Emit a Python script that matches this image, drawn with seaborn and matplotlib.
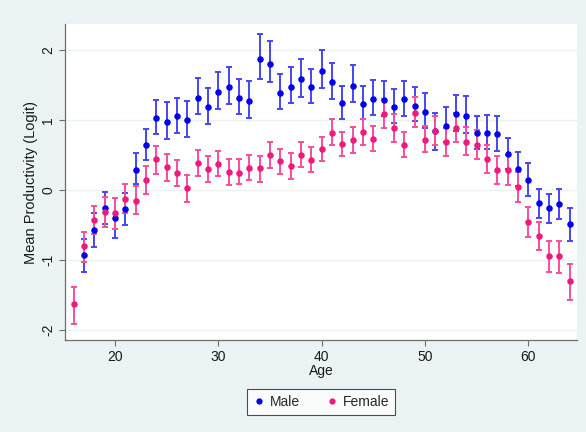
import numpy as np
import pandas as pd
import matplotlib
matplotlib.use("Agg")
import matplotlib.pyplot as plt
import seaborn as sns

# Mean productivity (logit) by age, with 95% confidence bounds
male_age = list(range(17, 65))
male_mean = [-0.92, -0.57, -0.25, -0.40, -0.27, 0.29, 0.64, 1.03, 0.97, 1.05,
             1.00, 1.32, 1.18, 1.40, 1.47, 1.32, 1.27, 1.87, 1.80, 1.39,
             1.47, 1.58, 1.47, 1.70, 1.54, 1.24, 1.49, 1.23, 1.30, 1.29,
             1.19, 1.30, 1.20, 1.11, 0.84, 0.92, 1.09, 1.06, 0.81, 0.82,
             0.80, 0.51, 0.30, 0.14, -0.19, -0.26, -0.20, -0.48]
male_lo = [-1.17, -0.81, -0.49, -0.69, -0.50, 0.08, 0.43, 0.80, 0.73, 0.81,
           0.76, 1.08, 0.94, 1.16, 1.23, 1.08, 1.03, 1.59, 1.54, 1.16,
           1.24, 1.33, 1.24, 1.46, 1.30, 1.01, 1.25, 1.01, 1.07, 1.05,
           0.95, 1.05, 0.98, 0.88, 0.57, 0.69, 0.85, 0.82, 0.59, 0.59,
           0.56, 0.30, 0.06, -0.09, -0.40, -0.47, -0.41, -0.73]
male_hi = [-0.70, -0.33, -0.03, -0.12, -0.04, 0.53, 0.87, 1.29, 1.25, 1.32,
           1.27, 1.60, 1.45, 1.69, 1.76, 1.59, 1.56, 2.23, 2.13, 1.66,
           1.75, 1.87, 1.73, 2.00, 1.81, 1.49, 1.78, 1.48, 1.57, 1.55,
           1.44, 1.56, 1.47, 1.38, 1.10, 1.18, 1.36, 1.34, 1.06, 1.07,
           1.06, 0.74, 0.54, 0.39, 0.01, -0.05, 0.02, -0.26]

female_age = list(range(16, 65))
female_mean = [-1.63, -0.80, -0.43, -0.31, -0.33, -0.13, -0.15, 0.14, 0.44, 0.33,
               0.25, 0.03, 0.38, 0.30, 0.37, 0.26, 0.25, 0.32, 0.31, 0.50,
               0.41, 0.35, 0.50, 0.43, 0.59, 0.82, 0.66, 0.71, 0.83, 0.73,
               1.08, 0.88, 0.65, 1.10, 0.72, 0.85, 0.68, 0.89, 0.69, 0.65,
               0.45, 0.28, 0.28, 0.05, -0.45, -0.65, -0.94, -0.94, -1.30]
female_lo = [-1.91, -1.02, -0.63, -0.53, -0.56, -0.33, -0.34, -0.06, 0.23, 0.13,
             0.06, -0.17, 0.20, 0.12, 0.20, 0.07, 0.08, 0.14, 0.12, 0.32,
             0.23, 0.16, 0.33, 0.26, 0.42, 0.64, 0.49, 0.53, 0.64, 0.56,
             0.89, 0.69, 0.47, 0.90, 0.54, 0.64, 0.48, 0.68, 0.50, 0.44,
             0.25, 0.08, 0.07, -0.17, -0.67, -0.86, -1.17, -1.18, -1.57]
female_hi = [-1.39, -0.60, -0.23, -0.10, -0.11, 0.08, 0.06, 0.35, 0.63, 0.51,
             0.43, 0.21, 0.57, 0.49, 0.56, 0.45, 0.45, 0.50, 0.49, 0.68,
             0.59, 0.53, 0.68, 0.61, 0.76, 1.01, 0.83, 0.90, 1.02, 0.91,
             1.30, 1.08, 0.83, 1.33, 0.92, 1.06, 0.88, 1.10, 0.90, 0.86,
             0.65, 0.49, 0.50, 0.26, -0.24, -0.45, -0.73, -0.72, -1.06]

x_ticks = [20, 30, 40, 50, 60]
y_ticks = [-2, -1, 0, 1, 2]

male = pd.DataFrame({"Age": male_age, "mean": male_mean, "lo": male_lo,
                     "hi": male_hi, "Sex": "Male"})
female = pd.DataFrame({"Age": female_age, "mean": female_mean, "lo": female_lo,
                       "hi": female_hi, "Sex": "Female"})
df = pd.concat([male, female], ignore_index=True)

point_colors = {"Male": "#0000EE", "Female": "#F01A7C"}
bar_colors = {"Male": "#4646F6", "Female": "#F5509A"}
bg = "#EAF2F3"
text_color = "#1a1a1a"

sns.set_theme(style="white")
plt.rcParams["font.family"] = ["Liberation Sans", "DejaVu Sans"]

fig = plt.figure(figsize=(5.86, 4.32), dpi=100, facecolor=bg)
ax = fig.add_axes([65 / 586, 1 - 340 / 432, 512 / 586, 316 / 432])
ax.set_facecolor("white")

for sex in ["Male", "Female"]:
    d = df[df["Sex"] == sex]
    ax.errorbar(d["Age"], d["mean"],
                yerr=[d["mean"] - d["lo"], d["hi"] - d["mean"]],
                fmt="none", ecolor=bar_colors[sex], elinewidth=1.4,
                capsize=2.4, capthick=1.4, zorder=2)
    sns.scatterplot(data=d, x="Age", y="mean", color=point_colors[sex],
                    s=22, linewidth=0, ax=ax, zorder=3, legend=False)

ax.set_xlim(15.15, 64.7)
ax.set_ylim(-2.14, 2.37)
ax.set_xticks(x_ticks)
ax.set_yticks(y_ticks)
ax.set_yticklabels([str(v) for v in y_ticks], rotation=90, va="center")
ax.grid(axis="y", color=bg, linewidth=1.0)
ax.grid(axis="x", visible=False)
ax.set_axisbelow(True)

for side in ["top", "right"]:
    ax.spines[side].set_visible(False)
for side in ["left", "bottom"]:
    ax.spines[side].set_color("#6E6E6E")
    ax.spines[side].set_linewidth(0.9)

ax.tick_params(axis="both", direction="out", length=4, width=0.8,
               color="#6E6E6E", labelsize=10, labelcolor=text_color, pad=3,
               left=True, bottom=True)
ax.set_xlabel("Age", fontsize=10, color=text_color, labelpad=0)
ax.set_ylabel("Mean Productivity (Logit)", fontsize=10.5, color=text_color,
              labelpad=2)

handles = [plt.Line2D([], [], marker="o", linestyle="none", markersize=4.5,
                      markerfacecolor=point_colors[s], markeredgewidth=0,
                      label=s) for s in ["Male", "Female"]]
leg = fig.legend(handles=handles, loc="center", ncol=2,
                 bbox_to_anchor=(321 / 586, 1 - 402 / 432), frameon=True,
                 fancybox=False, edgecolor="#222222", fontsize=10,
                 handletextpad=0.3, columnspacing=1.8, handlelength=1.0,
                 borderpad=0.4, borderaxespad=0)
leg.get_frame().set_linewidth(0.8)
leg.get_frame().set_facecolor("white")

fig.savefig("out.png", dpi=100, facecolor=bg)
